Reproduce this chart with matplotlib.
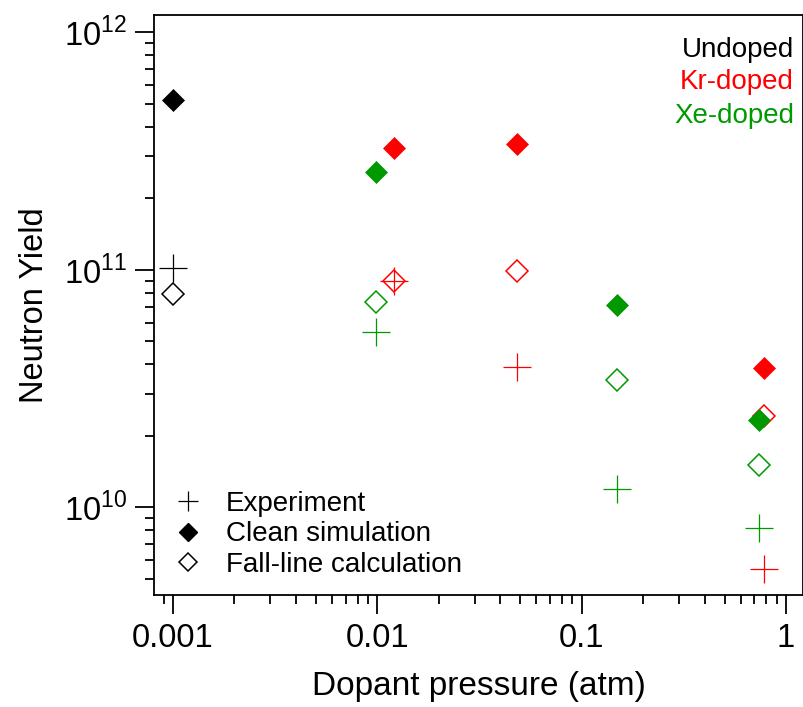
import matplotlib
matplotlib.use("Agg")
import matplotlib.pyplot as plt
from matplotlib.lines import Line2D
from matplotlib.ticker import LogLocator, NullFormatter, FixedLocator, FixedFormatter

plt.rcParams['font.family'] = ['Liberation Sans', 'DejaVu Sans']
plt.rcParams['mathtext.fontset'] = 'custom'
plt.rcParams['mathtext.rm'] = 'Liberation Sans'

# Data (pressure in atm, neutron yield)
undoped_p = [0.001]
undoped_exp = [1.02e11]
undoped_clean = [5.2e11]
undoped_fall = [7.9e10]

kr_p = [0.012, 0.048, 0.78]
kr_exp = [9.0e10, 3.9e10, 5.5e9]
kr_clean = [3.26e11, 3.39e11, 3.87e10]
kr_fall = [9.0e10, 9.9e10, 2.42e10]

xe_p = [0.0099, 0.149, 0.735]
xe_exp = [5.46e10, 1.2e10, 8.2e9]
xe_clean = [2.58e11, 7.1e10, 2.33e10]
xe_fall = [7.35e10, 3.43e10, 1.51e10]

x_ticks = [0.001, 0.01, 0.1, 1]
x_tick_labels = ['0.001', '0.01', '0.1', '1']
y_ticks = [1e10, 1e11, 1e12]
y_tick_labels = ['$10^{10}$', '$10^{11}$', '$10^{12}$']

fig = plt.figure(figsize=(8.04, 7.07), dpi=100)
ax = fig.add_axes([0.1915, 0.1584, 0.8073, 0.8208])

BLACK = '#000000'
RED = '#ff0000'
GREEN = '#009900'

groups = [
    (undoped_p, undoped_exp, undoped_clean, undoped_fall, BLACK),
    (kr_p, kr_exp, kr_clean, kr_fall, RED),
    (xe_p, xe_exp, xe_clean, xe_fall, GREEN),
]
for p, ex, cl, fa, c in groups:
    ax.plot(p, cl, linestyle='none', marker='D', ms=11.5, mfc=c, mec=c, mew=0.5)
    ax.plot(p, fa, linestyle='none', marker='D', ms=11.0, mfc='none', mec=c, mew=1.1)
    ax.plot(p, ex, linestyle='none', marker='+', ms=20, mec=c, mew=0.9)

ax.set_xscale('log')
ax.set_yscale('log')
ax.set_xlim(10**-3.093, 10**0.083)
ax.set_ylim(10**9.631, 10**12.074)

ax.xaxis.set_major_locator(FixedLocator(x_ticks))
ax.xaxis.set_major_formatter(FixedFormatter(x_tick_labels))
ax.xaxis.set_minor_locator(LogLocator(base=10, subs=range(2, 10), numticks=20))
ax.xaxis.set_minor_formatter(NullFormatter())
ax.yaxis.set_major_locator(FixedLocator(y_ticks))
ax.yaxis.set_major_formatter(FixedFormatter(y_tick_labels))
ax.yaxis.set_minor_locator(LogLocator(base=10, subs=range(2, 10), numticks=20))
ax.yaxis.set_minor_formatter(NullFormatter())

ax.tick_params(which='major', direction='out', length=13.5, width=1.3, labelsize=23.5, pad=7)
ax.tick_params(axis='y', which='major', pad=6)
ax.tick_params(which='minor', direction='out', length=6.5, width=1.3)
ax.tick_params(top=False, right=False)
for s in ax.spines.values():
    s.set_linewidth(1.3)

ax.set_xlabel('Dopant pressure (atm)', fontsize=24, labelpad=12)
ax.set_ylabel('Neutron Yield', fontsize=23.5, labelpad=10)

ax.text(0.986, 0.939, 'Undoped', color=BLACK, fontsize=20, ha='right', va='center', transform=ax.transAxes)
ax.text(0.986, 0.884, 'Kr-doped', color=RED, fontsize=20, ha='right', va='center', transform=ax.transAxes)
ax.text(0.986, 0.825, 'Xe-doped', color=GREEN, fontsize=20, ha='right', va='center', transform=ax.transAxes)

handles = [
    Line2D([], [], linestyle='none', marker='+', ms=14, mec='k', mew=0.9),
    Line2D([], [], linestyle='none', marker='D', ms=9.5, mfc='k', mec='k'),
    Line2D([], [], linestyle='none', marker='D', ms=9, mfc='none', mec='k', mew=1.1),
]
ax.legend(handles, ['Experiment', 'Clean simulation', 'Fall-line calculation'],
          loc='lower left', frameon=False, fontsize=20, handletextpad=0.75,
          handlelength=1.2, labelspacing=0.17, borderaxespad=0.0,
          bbox_to_anchor=(0.01, 0.01))

fig.savefig('out.png', dpi=100)
